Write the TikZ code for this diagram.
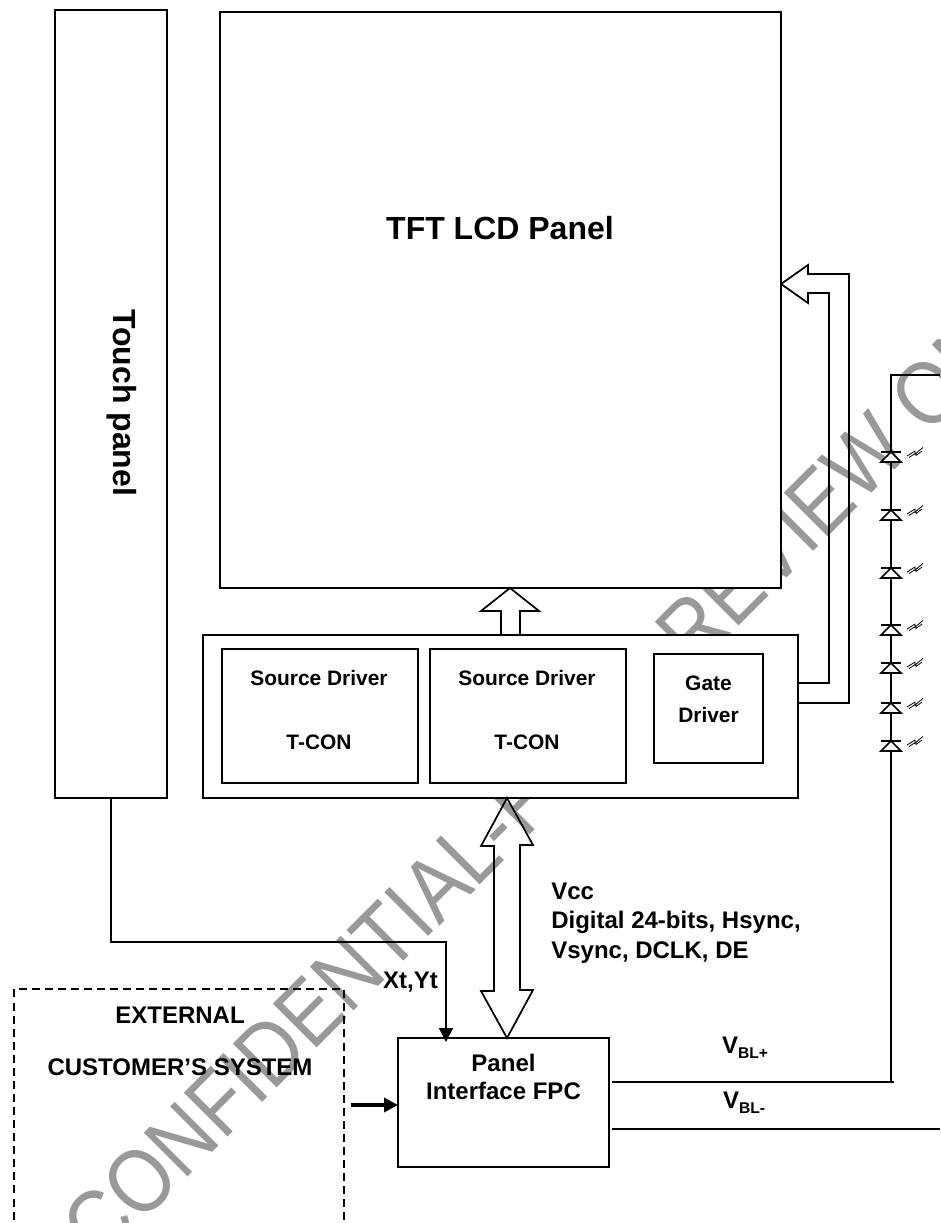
\documentclass[tikz,border=0pt]{standalone}
\usepackage{fontspec}
\setmainfont{Liberation Sans}
\usetikzlibrary{arrows.meta,calc}
\definecolor{wmgray}{HTML}{999999}
\newcommand{\vbl}[1]{V\raisebox{-.2em}{\fontsize{11.7}{12}\selectfont BL#1}}

\begin{document}
\begin{tikzpicture}[
  x=0.75pt,y=-0.75pt,
  >={Triangle[length=10.5pt,width=10.5pt]},
  box/.style={draw,fill=white,line width=1.3pt,inner sep=0pt,outer sep=0pt},
  lbl/.style={font=\fontsize{18}{21.5}\selectfont\bfseries,align=left,inner sep=0pt},
  small/.style={font=\fontsize{15.7}{24}\selectfont\bfseries,align=center,inner sep=0pt},
  big/.style={font=\fontsize{24}{28}\selectfont\bfseries,inner sep=0pt},
  fat/.style={line width=1.3pt,line join=miter},
  wire/.style={line width=1.3pt},
  led/.pic={
    \draw[fill=white,line width=1.2pt] (0,0) -- (10,10) -- (-10,10) -- cycle;
    \draw[line width=1.2pt] (-10,0) -- (10,0);
    \draw[line width=0.6pt] (16,4) -- (24,-1) -- (24,2) -- (32,-4.5)
      (18,5.5) -- (25,1) -- (25,3.5) -- (31,-1);
  },
]
\useasboundingbox (0,0) rectangle (940,1223);
\clip (0,0) rectangle (940,1223);

% the mark across the sheet goes underneath everything
\node[font=\fontsize{67.5}{70}\selectfont,text=wmgray,anchor=base west,rotate=45,
      xscale=.87,inner sep=0pt] (mark) at (100.5,1264.5)
  {CONFIDENTIAL-FOR PREVIEW ONLY};

\node[box,minimum width=84pt,minimum height=591pt] (touch) at (111,404) {};
\node[box,minimum width=420.75pt,minimum height=432pt] (tft) at (500.5,300) {};
\node[box,minimum width=446.25pt,minimum height=122.25pt] (drv) at (500.5,716.5) {};
\node[box,minimum width=147pt,minimum height=100.5pt] (srca) at (320,716) {};
\node[box,minimum width=147pt,minimum height=100.5pt] (srcb) at (528,716) {};
\node[box,minimum width=81.75pt,minimum height=81.75pt] (gate) at (708.5,708.5) {};
\node[box,minimum width=158.25pt,minimum height=96.75pt] (fpc) at (503.5,1102.5) {};
\node[draw,dashed,dash pattern=on 6pt off 3.8pt,line width=1pt,inner sep=0pt,
      minimum width=247.5pt,minimum height=308.25pt] (ext) at (179,1194.5) {};

\node[big] (tfttxt) at (500,228) {TFT LCD Panel};
\node[big,rotate=-90] (touchtxt) at (122,403) {Touch panel};
\node[small] (srcatxt) at (319,710) {Source Driver\\[24pt]T-CON};
\node[small] (srcbtxt) at (527,710) {Source Driver\\[24pt]T-CON};
\node[small] (gatetxt) at (708.5,699) {Gate\\Driver};
\node[lbl,align=center] (fpctxt) at (503.5,1077) {Panel\\Interface FPC};
\node[lbl] (exttxt) at (180,1015) {EXTERNAL};
\node[lbl] (custxt) at (180,1067) {CUSTOMER’S SYSTEM};
\node[lbl] (bustxt) at (676,923) {Vcc\\[0.5pt]Digital 24-bits, Hsync,\\[0.5pt]Vsync, DCLK, DE};
\node[lbl] (xytxt) at (410.5,982) {Xt,Yt};
\node[lbl] (vptxt) at (745,1048) {\vbl{+}};
\node[lbl] (vmtxt) at (744,1103) {\vbl{-}};

\coordinate (upf) at (510,600);
\coordinate (gin) at (781,284);
\coordinate (bus) at (507,900);
\coordinate (xtin) at (446,942);
\coordinate (cin) at (398,1105);
\coordinate (ledtop) at (891,375);
\coordinate (ledbot) at (891,1082);
\coordinate (vmout) at (940,1129);

% wide buses
\draw[fat] (tft.south -| upf) -- ++(-29,23) -- ++(20,0) -- ++(0,24)
  (tft.south -| upf) -- ++(29,23) -- ++(-19,0) -- ++(0,24);
\draw[fat] (tft.east |- gin) -- ++(27,-19) -- ++(0,9) -- ++(41,0) -- ++(0,429) -- ++(-51,0)
  (tft.east |- gin) -- ++(27,19) -- ++(0,-10) -- ++(21,0) -- ++(0,390) -- ++(-31,0);
\draw[fat] (drv.south -| bus) -- ++(26,47) -- ++(-13,0) -- ++(0,145) -- ++(13,0)
  -- (fpc.north -| bus) -- ++(-26,-47) -- ++(13,0) -- ++(0,-145) -- ++(-13,0) -- cycle;

% signals
\draw[wire,->] (touch.south) |- (xtin) -- ([yshift=-3pt]xtin |- fpc.north);
\draw[line width=2.6pt,->,shorten <=4.5pt] (ext.east |- cin) -- (cin);
\draw[wire,shorten <=2.5pt] (fpc.east |- ledbot) -- ([xshift=2pt]ledbot);
\draw[wire,shorten <=2.5pt] (fpc.east |- vmout) -- (vmout);
\draw[line width=1.5pt] (ledbot) -- (ledtop) -- (ledtop -| vmout);

\foreach \ypos in {452,510,568,625,663,703,741}
  \pic at (891,\ypos) {led};

\end{tikzpicture}
\end{document}
